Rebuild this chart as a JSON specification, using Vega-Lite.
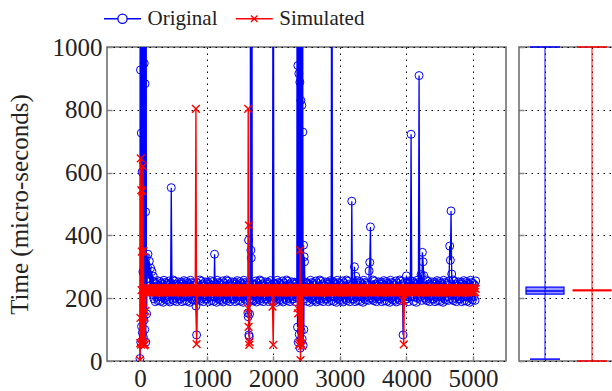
{
  "$schema": "https://vega.github.io/schema/vega-lite/v6.json",
  "padding": {"left": 6, "top": 8, "right": 0, "bottom": 0},
  "background": "white",
  "spacing": 10,
  "datasets": {
    "ts": [
      {"x":0,"o":8,"s":3},{"x":4,"o":2000,"s":57},{"x":8,"o":927,"s":137},{"x":12,"o":60,"s":645},{"x":16,"o":2000,"s":52},{"x":20,"o":726,"s":544},{"x":24,"o":110,"s":226},{"x":28,"o":2000,"s":348},{"x":32,"o":602,"s":60},{"x":36,"o":90,"s":540},{"x":40,"o":2000,"s":55},{"x":44,"o":284,"s":620},{"x":48,"o":1500,"s":168},{"x":52,"o":75,"s":350},{"x":56,"o":2000,"s":58},{"x":60,"o":130,"s":226},{"x":64,"o":948,"s":50},{"x":68,"o":2000,"s":137},{"x":72,"o":100,"s":228},{"x":76,"o":883,"s":53},{"x":80,"o":2000,"s":225},{"x":84,"o":475,"s":160},{"x":88,"o":60,"s":224},{"x":92,"o":2000,"s":226},{"x":96,"o":330,"s":222},{"x":100,"o":150,"s":227},
      {"x":110,"o":300,"s":219},{"x":120,"o":340,"s":231},{"x":130,"o":262,"s":218},{"x":140,"o":318,"s":232},{"x":150,"o":240,"s":220},{"x":160,"o":296,"s":230},{"x":170,"o":228,"s":219},{"x":180,"o":285,"s":231},{"x":190,"o":212,"s":218},{"x":200,"o":270,"s":232},
      {"x":210,"o":198,"s":220},{"x":220,"o":251,"s":232},{"x":230,"o":189,"s":219},{"x":240,"o":246,"s":230},{"x":250,"o":203,"s":218},{"x":260,"o":256,"s":231},{"x":270,"o":192,"s":220},{"x":280,"o":241,"s":232},{"x":290,"o":207,"s":219},{"x":300,"o":253,"s":230},
      {"x":310,"o":190,"s":219},{"x":320,"o":248,"s":231},{"x":330,"o":204,"s":218},{"x":340,"o":244,"s":232},{"x":350,"o":187,"s":220},{"x":360,"o":257,"s":230},{"x":370,"o":199,"s":219},{"x":380,"o":250,"s":231},{"x":390,"o":194,"s":218},{"x":400,"o":247,"s":232},
      {"x":410,"o":205,"s":220},{"x":420,"o":243,"s":232},{"x":430,"o":193,"s":219},{"x":440,"o":255,"s":230},{"x":450,"o":188,"s":218},{"x":460,"o":249,"s":231},{"x":470,"o":552,"s":220},{"x":480,"o":239,"s":232},{"x":490,"o":196,"s":219},{"x":500,"o":258,"s":230},
      {"x":510,"o":192,"s":219},{"x":520,"o":254,"s":231},{"x":530,"o":200,"s":218},{"x":540,"o":245,"s":232},{"x":550,"o":189,"s":220},{"x":560,"o":240,"s":230},{"x":570,"o":206,"s":219},{"x":580,"o":252,"s":231},{"x":590,"o":197,"s":218},{"x":600,"o":246,"s":232},
      {"x":610,"o":198,"s":220},{"x":620,"o":251,"s":232},{"x":630,"o":189,"s":219},{"x":640,"o":246,"s":230},{"x":650,"o":203,"s":218},{"x":660,"o":256,"s":231},{"x":670,"o":192,"s":220},{"x":680,"o":241,"s":232},{"x":690,"o":207,"s":219},{"x":700,"o":253,"s":230},
      {"x":710,"o":190,"s":219},{"x":720,"o":248,"s":231},{"x":730,"o":204,"s":218},{"x":740,"o":244,"s":232},{"x":750,"o":187,"s":220},{"x":760,"o":257,"s":230},{"x":770,"o":199,"s":219},{"x":780,"o":250,"s":231},{"x":790,"o":194,"s":218},{"x":800,"o":247,"s":232},
      {"x":810,"o":205,"s":220},{"x":820,"o":243,"s":232},{"x":830,"o":193,"s":219},{"x":840,"o":175,"s":803},{"x":850,"o":83,"s":54},{"x":860,"o":249,"s":231},{"x":870,"o":201,"s":220},{"x":880,"o":239,"s":232},{"x":890,"o":196,"s":219},{"x":900,"o":258,"s":230},
      {"x":910,"o":192,"s":219},{"x":920,"o":254,"s":231},{"x":930,"o":200,"s":218},{"x":940,"o":245,"s":232},{"x":950,"o":189,"s":220},{"x":960,"o":240,"s":230},{"x":970,"o":206,"s":219},{"x":980,"o":252,"s":231},{"x":990,"o":197,"s":218},{"x":1000,"o":246,"s":232},
      {"x":1010,"o":198,"s":220},{"x":1020,"o":251,"s":232},{"x":1030,"o":189,"s":219},{"x":1040,"o":246,"s":230},{"x":1050,"o":203,"s":218},{"x":1060,"o":256,"s":231},{"x":1070,"o":192,"s":220},{"x":1080,"o":241,"s":232},{"x":1090,"o":207,"s":219},{"x":1100,"o":253,"s":230},
      {"x":1110,"o":190,"s":219},{"x":1120,"o":340,"s":231},{"x":1130,"o":204,"s":218},{"x":1140,"o":244,"s":232},{"x":1150,"o":187,"s":220},{"x":1160,"o":257,"s":230},{"x":1170,"o":199,"s":219},{"x":1180,"o":250,"s":231},{"x":1190,"o":194,"s":218},{"x":1200,"o":247,"s":232},
      {"x":1210,"o":205,"s":220},{"x":1220,"o":243,"s":232},{"x":1230,"o":193,"s":219},{"x":1240,"o":255,"s":230},{"x":1250,"o":188,"s":218},{"x":1260,"o":249,"s":231},{"x":1270,"o":201,"s":220},{"x":1280,"o":239,"s":232},{"x":1290,"o":196,"s":219},{"x":1300,"o":258,"s":230},
      {"x":1310,"o":192,"s":219},{"x":1320,"o":254,"s":231},{"x":1330,"o":200,"s":218},{"x":1340,"o":245,"s":232},{"x":1350,"o":189,"s":220},{"x":1360,"o":240,"s":230},{"x":1370,"o":206,"s":219},{"x":1380,"o":252,"s":231},{"x":1390,"o":197,"s":218},{"x":1400,"o":246,"s":232},
      {"x":1410,"o":198,"s":220},{"x":1420,"o":251,"s":232},{"x":1430,"o":189,"s":219},{"x":1440,"o":246,"s":230},{"x":1450,"o":203,"s":218},{"x":1460,"o":256,"s":231},{"x":1470,"o":192,"s":220},{"x":1480,"o":241,"s":232},{"x":1490,"o":207,"s":219},{"x":1500,"o":253,"s":230},
      {"x":1510,"o":190,"s":219},{"x":1520,"o":248,"s":231},{"x":1530,"o":204,"s":218},{"x":1540,"o":244,"s":232},{"x":1550,"o":187,"s":220},{"x":1560,"o":257,"s":230},{"x":1570,"o":199,"s":219},{"x":1580,"o":250,"s":231},{"x":1590,"o":194,"s":218},{"x":1600,"o":247,"s":232},
      {"x":1610,"o":205,"s":220},{"x":1615,"o":243,"s":231},{"x":1620,"o":153,"s":168},{"x":1625,"o":141,"s":803},{"x":1630,"o":385,"s":109},{"x":1635,"o":83,"s":432},{"x":1640,"o":78,"s":51},{"x":1645,"o":150,"s":60},{"x":1650,"o":250,"s":220},{"x":1655,"o":198,"s":232},{"x":1660,"o":2000,"s":219},{"x":1665,"o":353,"s":230},{"x":1670,"o":328,"s":218},{"x":1675,"o":193,"s":231},{"x":1680,"o":2000,"s":220},{"x":1685,"o":196,"s":232},{"x":1690,"o":244,"s":219},{"x":1700,"o":191,"s":230},
      {"x":1710,"o":245,"s":220},{"x":1720,"o":193,"s":232},{"x":1730,"o":243,"s":219},{"x":1740,"o":255,"s":230},{"x":1750,"o":188,"s":218},{"x":1760,"o":249,"s":231},{"x":1770,"o":201,"s":220},{"x":1780,"o":239,"s":232},{"x":1790,"o":196,"s":219},{"x":1800,"o":258,"s":230},
      {"x":1810,"o":192,"s":219},{"x":1820,"o":254,"s":231},{"x":1830,"o":200,"s":218},{"x":1840,"o":245,"s":232},{"x":1850,"o":189,"s":220},{"x":1860,"o":240,"s":230},{"x":1870,"o":206,"s":219},{"x":1880,"o":252,"s":231},{"x":1890,"o":197,"s":218},{"x":1900,"o":246,"s":232},
      {"x":1910,"o":198,"s":220},{"x":1920,"o":251,"s":232},{"x":1930,"o":189,"s":219},{"x":1940,"o":246,"s":230},{"x":1950,"o":203,"s":218},{"x":1960,"o":256,"s":231},{"x":1970,"o":192,"s":220},{"x":1980,"o":241,"s":232},{"x":1990,"o":207,"s":173},{"x":2000,"o":2000,"s":51},
      {"x":2010,"o":190,"s":219},{"x":2020,"o":248,"s":231},{"x":2030,"o":204,"s":218},{"x":2040,"o":244,"s":232},{"x":2050,"o":187,"s":220},{"x":2060,"o":257,"s":230},{"x":2070,"o":199,"s":219},{"x":2080,"o":250,"s":231},{"x":2090,"o":194,"s":218},{"x":2100,"o":247,"s":232},
      {"x":2110,"o":205,"s":220},{"x":2120,"o":243,"s":232},{"x":2130,"o":193,"s":219},{"x":2140,"o":255,"s":230},{"x":2150,"o":188,"s":218},{"x":2160,"o":249,"s":231},{"x":2170,"o":201,"s":220},{"x":2180,"o":239,"s":232},{"x":2190,"o":196,"s":219},{"x":2200,"o":258,"s":230},
      {"x":2210,"o":192,"s":219},{"x":2220,"o":254,"s":231},{"x":2230,"o":200,"s":218},{"x":2240,"o":245,"s":232},{"x":2250,"o":189,"s":220},{"x":2260,"o":240,"s":230},{"x":2270,"o":206,"s":219},{"x":2280,"o":252,"s":231},{"x":2290,"o":197,"s":218},{"x":2300,"o":246,"s":232},
      {"x":2310,"o":198,"s":220},{"x":2320,"o":251,"s":232},{"x":2330,"o":189,"s":219},{"x":2340,"o":246,"s":230},{"x":2350,"o":203,"s":218},{"x":2355,"o":250,"s":231},{"x":2360,"o":2000,"s":220},{"x":2365,"o":108,"s":168},{"x":2370,"o":941,"s":231},{"x":2375,"o":60,"s":152},{"x":2380,"o":2000,"s":219},{"x":2385,"o":915,"s":51},{"x":2390,"o":85,"s":232},{"x":2395,"o":2000,"s":220},{"x":2400,"o":888,"s":56},{"x":2405,"o":41,"s":353},{"x":2410,"o":2000,"s":3},{"x":2415,"o":830,"s":230},{"x":2420,"o":95,"s":55},{"x":2425,"o":2000,"s":219},{"x":2430,"o":814,"s":231},{"x":2435,"o":70,"s":48},{"x":2440,"o":2000,"s":220},{"x":2445,"o":729,"s":232},{"x":2450,"o":50,"s":219},{"x":2455,"o":369,"s":230},{"x":2460,"o":100,"s":218},{"x":2465,"o":332,"s":231},{"x":2470,"o":316,"s":220},{"x":2480,"o":198,"s":232},{"x":2490,"o":251,"s":219},{"x":2500,"o":246,"s":231},
      {"x":2510,"o":190,"s":219},{"x":2520,"o":248,"s":231},{"x":2530,"o":204,"s":218},{"x":2540,"o":244,"s":232},{"x":2550,"o":187,"s":220},{"x":2560,"o":257,"s":230},{"x":2570,"o":199,"s":219},{"x":2580,"o":250,"s":231},{"x":2590,"o":194,"s":218},{"x":2600,"o":247,"s":232},
      {"x":2610,"o":205,"s":220},{"x":2620,"o":243,"s":232},{"x":2630,"o":193,"s":219},{"x":2640,"o":255,"s":230},{"x":2650,"o":188,"s":218},{"x":2660,"o":249,"s":231},{"x":2670,"o":201,"s":220},{"x":2680,"o":239,"s":232},{"x":2690,"o":196,"s":219},{"x":2700,"o":258,"s":230},
      {"x":2710,"o":192,"s":219},{"x":2720,"o":254,"s":231},{"x":2730,"o":200,"s":218},{"x":2740,"o":245,"s":232},{"x":2750,"o":189,"s":220},{"x":2760,"o":240,"s":230},{"x":2770,"o":206,"s":219},{"x":2780,"o":252,"s":231},{"x":2790,"o":197,"s":218},{"x":2800,"o":246,"s":232},
      {"x":2810,"o":198,"s":220},{"x":2820,"o":251,"s":232},{"x":2830,"o":189,"s":219},{"x":2840,"o":246,"s":230},{"x":2850,"o":203,"s":218},{"x":2860,"o":256,"s":231},{"x":2870,"o":192,"s":220},{"x":2880,"o":2000,"s":232},{"x":2890,"o":207,"s":219},{"x":2900,"o":253,"s":230},
      {"x":2910,"o":190,"s":219},{"x":2920,"o":248,"s":231},{"x":2930,"o":204,"s":218},{"x":2940,"o":244,"s":232},{"x":2950,"o":187,"s":220},{"x":2960,"o":257,"s":230},{"x":2970,"o":199,"s":219},{"x":2980,"o":250,"s":231},{"x":2990,"o":194,"s":218},{"x":3000,"o":247,"s":232},
      {"x":3010,"o":205,"s":220},{"x":3020,"o":243,"s":232},{"x":3030,"o":193,"s":219},{"x":3040,"o":255,"s":230},{"x":3050,"o":188,"s":218},{"x":3060,"o":249,"s":231},{"x":3070,"o":201,"s":220},{"x":3080,"o":239,"s":232},{"x":3090,"o":196,"s":219},{"x":3100,"o":258,"s":230},
      {"x":3110,"o":192,"s":219},{"x":3120,"o":254,"s":231},{"x":3130,"o":200,"s":218},{"x":3140,"o":245,"s":232},{"x":3150,"o":189,"s":220},{"x":3160,"o":240,"s":230},{"x":3170,"o":206,"s":219},{"x":3180,"o":509,"s":231},{"x":3190,"o":197,"s":218},{"x":3200,"o":246,"s":232},
      {"x":3210,"o":198,"s":220},{"x":3220,"o":300,"s":232},{"x":3230,"o":189,"s":219},{"x":3240,"o":270,"s":230},{"x":3250,"o":203,"s":218},{"x":3260,"o":256,"s":231},{"x":3270,"o":192,"s":220},{"x":3280,"o":241,"s":232},{"x":3290,"o":207,"s":219},{"x":3300,"o":253,"s":230},
      {"x":3310,"o":190,"s":219},{"x":3320,"o":248,"s":231},{"x":3330,"o":204,"s":218},{"x":3340,"o":244,"s":232},{"x":3350,"o":187,"s":220},{"x":3360,"o":257,"s":230},{"x":3370,"o":199,"s":219},{"x":3380,"o":250,"s":231},{"x":3390,"o":194,"s":218},{"x":3400,"o":247,"s":232},
      {"x":3410,"o":205,"s":220},{"x":3420,"o":243,"s":232},{"x":3430,"o":193,"s":219},{"x":3440,"o":287,"s":230},{"x":3450,"o":314,"s":218},{"x":3460,"o":427,"s":231},{"x":3470,"o":201,"s":220},{"x":3480,"o":239,"s":232},{"x":3490,"o":196,"s":219},{"x":3500,"o":258,"s":230},
      {"x":3510,"o":192,"s":219},{"x":3520,"o":254,"s":231},{"x":3530,"o":200,"s":218},{"x":3540,"o":245,"s":232},{"x":3550,"o":189,"s":220},{"x":3560,"o":240,"s":230},{"x":3570,"o":206,"s":219},{"x":3580,"o":252,"s":231},{"x":3590,"o":197,"s":218},{"x":3600,"o":246,"s":232},
      {"x":3610,"o":198,"s":220},{"x":3620,"o":251,"s":232},{"x":3630,"o":189,"s":219},{"x":3640,"o":246,"s":230},{"x":3650,"o":203,"s":218},{"x":3660,"o":256,"s":231},{"x":3670,"o":192,"s":220},{"x":3680,"o":241,"s":232},{"x":3690,"o":207,"s":219},{"x":3700,"o":253,"s":230},
      {"x":3710,"o":190,"s":219},{"x":3720,"o":248,"s":231},{"x":3730,"o":204,"s":218},{"x":3740,"o":244,"s":232},{"x":3750,"o":187,"s":220},{"x":3760,"o":257,"s":230},{"x":3770,"o":199,"s":219},{"x":3780,"o":250,"s":231},{"x":3790,"o":194,"s":218},{"x":3800,"o":247,"s":232},
      {"x":3810,"o":205,"s":220},{"x":3820,"o":243,"s":232},{"x":3830,"o":193,"s":219},{"x":3840,"o":255,"s":230},{"x":3850,"o":188,"s":218},{"x":3860,"o":249,"s":231},{"x":3870,"o":201,"s":220},{"x":3880,"o":239,"s":232},{"x":3890,"o":196,"s":219},{"x":3900,"o":258,"s":230},
      {"x":3910,"o":192,"s":219},{"x":3920,"o":254,"s":231},{"x":3930,"o":200,"s":218},{"x":3940,"o":245,"s":232},{"x":3950,"o":83,"s":192},{"x":3960,"o":240,"s":53},{"x":3970,"o":206,"s":219},{"x":3980,"o":252,"s":231},{"x":3990,"o":197,"s":218},{"x":4000,"o":271,"s":232},
      {"x":4010,"o":198,"s":220},{"x":4020,"o":251,"s":232},{"x":4030,"o":189,"s":219},{"x":4040,"o":246,"s":230},{"x":4050,"o":203,"s":218},{"x":4060,"o":256,"s":231},{"x":4070,"o":722,"s":220},{"x":4080,"o":241,"s":232},{"x":4090,"o":207,"s":219},{"x":4100,"o":253,"s":230},
      {"x":4110,"o":190,"s":219},{"x":4120,"o":248,"s":231},{"x":4130,"o":204,"s":218},{"x":4140,"o":244,"s":232},{"x":4150,"o":187,"s":220},{"x":4160,"o":257,"s":230},{"x":4170,"o":199,"s":219},{"x":4180,"o":250,"s":231},{"x":4190,"o":909,"s":218},{"x":4200,"o":247,"s":232},
      {"x":4210,"o":205,"s":220},{"x":4220,"o":275,"s":232},{"x":4230,"o":193,"s":219},{"x":4240,"o":346,"s":230},{"x":4250,"o":316,"s":218},{"x":4260,"o":272,"s":231},{"x":4270,"o":201,"s":220},{"x":4280,"o":239,"s":232},{"x":4290,"o":196,"s":219},{"x":4300,"o":258,"s":230},
      {"x":4310,"o":192,"s":219},{"x":4320,"o":254,"s":231},{"x":4330,"o":200,"s":218},{"x":4340,"o":245,"s":232},{"x":4350,"o":189,"s":220},{"x":4360,"o":240,"s":230},{"x":4370,"o":206,"s":219},{"x":4380,"o":252,"s":231},{"x":4390,"o":197,"s":218},{"x":4400,"o":246,"s":232},
      {"x":4410,"o":198,"s":220},{"x":4420,"o":251,"s":232},{"x":4430,"o":189,"s":219},{"x":4440,"o":246,"s":230},{"x":4450,"o":203,"s":218},{"x":4460,"o":256,"s":231},{"x":4470,"o":192,"s":220},{"x":4480,"o":241,"s":232},{"x":4490,"o":207,"s":219},{"x":4500,"o":253,"s":230},
      {"x":4510,"o":190,"s":219},{"x":4520,"o":248,"s":231},{"x":4530,"o":204,"s":218},{"x":4540,"o":244,"s":232},{"x":4550,"o":187,"s":220},{"x":4560,"o":257,"s":230},{"x":4570,"o":199,"s":219},{"x":4580,"o":250,"s":231},{"x":4590,"o":194,"s":218},{"x":4600,"o":247,"s":232},
      {"x":4610,"o":205,"s":220},{"x":4620,"o":243,"s":232},{"x":4630,"o":193,"s":219},{"x":4640,"o":255,"s":230},{"x":4650,"o":366,"s":218},{"x":4660,"o":321,"s":231},{"x":4670,"o":478,"s":220},{"x":4680,"o":277,"s":232},{"x":4690,"o":196,"s":219},{"x":4700,"o":258,"s":230},
      {"x":4710,"o":192,"s":219},{"x":4720,"o":254,"s":231},{"x":4730,"o":200,"s":218},{"x":4740,"o":245,"s":232},{"x":4750,"o":189,"s":220},{"x":4760,"o":240,"s":230},{"x":4770,"o":206,"s":219},{"x":4780,"o":252,"s":231},{"x":4790,"o":197,"s":218},{"x":4800,"o":246,"s":232},
      {"x":4810,"o":198,"s":220},{"x":4820,"o":251,"s":232},{"x":4830,"o":189,"s":219},{"x":4840,"o":246,"s":230},{"x":4850,"o":203,"s":218},{"x":4860,"o":256,"s":231},{"x":4870,"o":192,"s":220},{"x":4880,"o":241,"s":232},{"x":4890,"o":207,"s":219},{"x":4900,"o":253,"s":230},
      {"x":4910,"o":190,"s":219},{"x":4920,"o":248,"s":231},{"x":4930,"o":204,"s":218},{"x":4940,"o":244,"s":232},{"x":4950,"o":187,"s":220},{"x":4960,"o":257,"s":230},{"x":4970,"o":199,"s":219},{"x":4980,"o":250,"s":231},{"x":4990,"o":194,"s":218},{"x":5000,"o":247,"s":232},
      {"x":5010,"o":205,"s":220},{"x":5020,"o":243,"s":232},{"x":5030,"o":193,"s":219},{"x":5040,"o":255,"s":230}
    ],
    "box": [
      {"series":"Original","lo":6,"q1":213,"med":223,"q3":235,"hi":1000},
      {"series":"Simulated","lo":0,"q1":224,"med":225,"q3":226,"hi":1000}
    ],
    "leg": [{"series":"Original"},{"series":"Simulated"}]
  },
  "config": {
    "font": "Liberation Serif",
    "view": {"stroke": "#707070", "strokeWidth": 1.6},
    "axis": {
      "labelFont": "Liberation Serif", "labelFontSize": 25, "labelColor": "#222",
      "titleFont": "Liberation Serif", "titleFontSize": 25, "titleFontWeight": "normal", "titleColor": "#222",
      "grid": true, "gridColor": "#000", "gridDash": [1.5, 4.5], "gridWidth": 1, "gridOpacity": 1,
      "domain": false, "tickColor": "#888", "tickSize": -5, "tickWidth": 1.5
    },
    "legend": {"labelFont": "Liberation Serif"}
  },
  "hconcat": [
    {
      "width": 399,
      "height": 314,
      "layer": [
        {
          "data": {"name": "ts"},
          "mark": {"type": "line", "color": "#0000ff", "strokeWidth": 1.3, "clip": true},
          "encoding": {
            "x": {"field": "x", "type": "quantitative", "scale": {"domain": [-495, 5495], "nice": false, "zero": false},
                  "axis": {"values": [0, 1000, 2000, 3000, 4000, 5000], "title": null, "labelPadding": 10, "format": "d"}},
            "y": {"field": "o", "type": "quantitative", "scale": {"domain": [0, 1000], "nice": false},
                  "axis": {"values": [0, 200, 400, 600, 800, 1000], "title": "Time (micro-seconds)", "labelPadding": 10, "titlePadding": 20, "format": "d"}}
          }
        },
        {
          "data": {"name": "ts"},
          "mark": {"type": "point", "shape": "circle", "filled": false, "color": "#0000ff", "size": 64, "strokeWidth": 1, "opacity": 1, "clip": true},
          "encoding": {
            "x": {"field": "x", "type": "quantitative"},
            "y": {"field": "o", "type": "quantitative", "title": "Time (micro-seconds)"}
          }
        },
        {
          "data": {"name": "ts"},
          "mark": {"type": "line", "color": "#ff0000", "strokeWidth": 1.4, "clip": true},
          "encoding": {
            "x": {"field": "x", "type": "quantitative"},
            "y": {"field": "s", "type": "quantitative", "title": "Time (micro-seconds)"}
          }
        },
        {
          "data": {"name": "ts"},
          "mark": {"type": "point", "shape": "M-1,-1L1,1M-1,1L1,-1", "filled": false, "color": "#ff0000", "size": 60, "strokeWidth": 1.4, "opacity": 1, "clip": true},
          "encoding": {
            "x": {"field": "x", "type": "quantitative"},
            "y": {"field": "s", "type": "quantitative", "title": "Time (micro-seconds)"}
          }
        },
        {
          "data": {"name": "leg"},
          "mark": {"type": "point", "filled": false, "opacity": 0},
          "encoding": {
            "color": {"field": "series", "type": "nominal",
              "scale": {"domain": ["Original", "Simulated"], "range": ["#0000ff", "#ff0000"]},
              "legend": {"title": null, "orient": "none", "legendX": 5, "legendY": -39, "direction": "horizontal",
                "symbolSize": 342, "symbolStrokeWidth": 1.3, "symbolOpacity": 1, "labelFontSize": 21, "labelFont": "Liberation Serif",
                "labelColor": "#222", "labelOffset": 14.5, "columnPadding": 14.75}},
            "shape": {"field": "series", "type": "nominal",
              "scale": {"domain": ["Original", "Simulated"], "range": ["M-2,0H-0.5M0.5,0H2M0.5,0A0.5,0.5 0 1 1 -0.5,0A0.5,0.5 0 1 1 0.5,0", "M-2,0H2M-0.35,-0.35L0.35,0.35M-0.35,0.35L0.35,-0.35"]},
              "legend": {"title": null, "orient": "none", "legendX": 5, "legendY": -39, "direction": "horizontal",
                "symbolSize": 342, "symbolStrokeWidth": 1.3, "symbolOpacity": 1, "labelFontSize": 21, "labelFont": "Liberation Serif",
                "labelColor": "#222", "labelOffset": 14.5, "columnPadding": 14.75}}
          }
        }
      ]
    },
    {
      "width": 99,
      "height": 314,
      "data": {"name": "box"},
      "encoding": {
        "x": {"field": "series", "type": "nominal", "scale": {"type": "point", "padding": 0.553, "domain": ["Original", "Simulated"]},
              "axis": {"labels": false, "ticks": false, "title": null, "grid": true, "domain": false}},
        "color": {"condition": {"test": "datum.series === 'Original'", "value": "#0000ff"}, "value": "#ff0000"}
      },
      "layer": [
        {
          "mark": {"type": "rule", "strokeWidth": 1.3, "opacity": 0.75},
          "encoding": {
            "y": {"field": "lo", "type": "quantitative", "scale": {"domain": [0, 1000], "nice": false},
                  "axis": {"values": [0, 200, 400, 600, 800, 1000], "labels": false, "title": null}},
            "y2": {"field": "hi"}
          }
        },
        {
          "mark": {"type": "bar", "size": 38, "fillOpacity": 0.4, "strokeWidth": 1.2},
          "encoding": {
            "y": {"field": "q1", "type": "quantitative"},
            "y2": {"field": "q3"},
            "stroke": {"condition": {"test": "datum.series === 'Original'", "value": "#0000ff"}, "value": "#ff0000"}
          }
        },
        {
          "mark": {"type": "tick", "size": 38, "thickness": 1.6, "opacity": 1},
          "encoding": {"y": {"field": "med", "type": "quantitative"}}
        },
        {
          "mark": {"type": "tick", "size": 30, "thickness": 1.5, "opacity": 1},
          "encoding": {"y": {"field": "lo", "type": "quantitative"}}
        },
        {
          "mark": {"type": "tick", "size": 30, "thickness": 1.5, "opacity": 1},
          "encoding": {"y": {"field": "hi", "type": "quantitative"}}
        }
      ]
    }
  ]
}
